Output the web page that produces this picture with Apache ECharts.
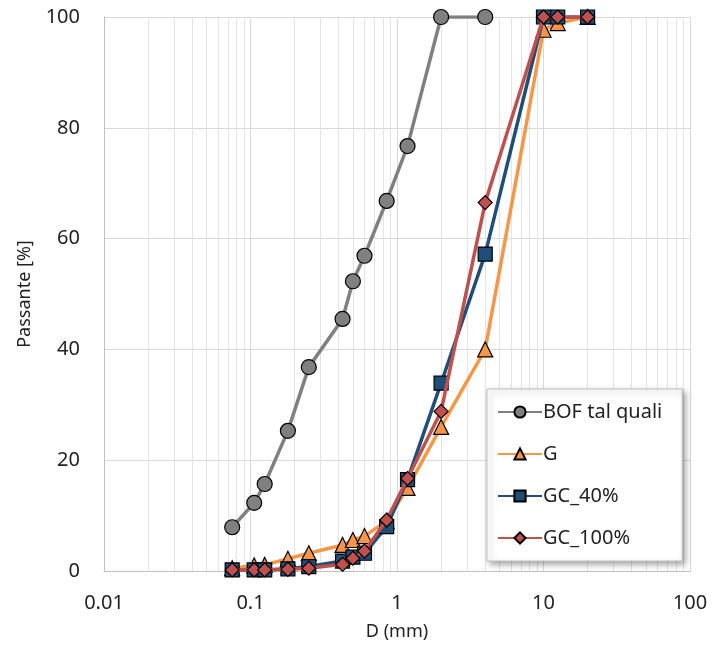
<!DOCTYPE html>
<html>
<head>
<meta charset="utf-8">
<script src="https://cdn.jsdelivr.net/npm/echarts@6/dist/echarts.min.js"></script>
<style>
  html, body { margin: 0; padding: 0; background: #fff; }
  #chart { width: 714px; height: 654px; }
</style>
</head>
<body>
<div id="chart"></div>
<script>
// sieve sizes (mm)
let sieves = [0.075, 0.106, 0.125, 0.18, 0.25, 0.425, 0.5, 0.6, 0.85, 1.18, 2, 4, 10, 12.5, 20];

let bofData = [7.9, 12.3, 15.7, 25.3, 36.8, 45.5, 52.3, 56.9, 66.8, 76.7, 100, 100];
let gData = [0.5, 1.0, 1.1, 2.2, 3.2, 4.7, 5.6, 6.3, 9.0, 15.0, 26.0, 40.0, 97.7, 98.9, 100];
let gc40Data = [0.2, 0.2, 0.2, 0.4, 0.8, 1.8, 2.5, 3.2, 8.0, 16.5, 33.9, 57.2, 100, 100, 100];
let gc100Data = [0.2, 0.2, 0.2, 0.3, 0.5, 1.2, 2.3, 3.6, 9.2, 16.7, 28.8, 66.5, 100, 100, 100];

let seriesNames = ['BOF tal quali', 'G', 'GC_40%', 'GC_100%'];

function pairs(vals) {
  let out = []
  for (let i = 0; i < vals.length; i++) {
    out.push([sieves[i], vals[i]])
  }
  return out
}

// minor log grid lines (2..9 in each decade)
let minorLines = []
for (let d = 0.01; d < 99; d *= 10) {
  for (let k = 2; k <= 9; k++) {
    minorLines.push({ xAxis: +(d * k).toPrecision(3) })
  }
}

let font = 'Noto Sans'

let chart = echarts.init(document.getElementById('chart'));
chart.setOption({
  animation: false,
  backgroundColor: '#fff',
  grid: { left: 104, right: 24, top: 17, bottom: 83 },
  xAxis: {
    type: 'log',
    logBase: 10,
    min: 0.01,
    max: 100,
    name: 'D (mm)',
    nameLocation: 'middle',
    nameGap: 52,
    nameTextStyle: { color: '#222', fontSize: 18, fontFamily: font },
    axisLine: { lineStyle: { color: '#bfbfbf' } },
    axisTick: { show: false },
    axisLabel: {
      color: '#222', fontSize: 20, fontFamily: font, margin: 22,
      formatter: function (v) { return String(+v.toPrecision(3)) }
    },
    splitLine: { show: true, lineStyle: { color: '#d9d9d9' } }
  },
  yAxis: {
    type: 'value',
    min: 0,
    max: 100,
    interval: 20,
    name: 'Passante [%]',
    nameLocation: 'middle',
    nameGap: 70,
    nameRotate: 90,
    nameTextStyle: { color: '#222', fontSize: 18, fontFamily: font },
    axisLine: { show: true, lineStyle: { color: '#bfbfbf' } },
    axisTick: { show: false },
    axisLabel: { color: '#222', fontSize: 20, fontFamily: font, margin: 24 },
    splitLine: { show: true, lineStyle: { color: '#d9d9d9' } }
  },
  legend: {
    orient: 'vertical',
    left: 487,
    top: 389,
    width: 170,
    padding: [13, 20, 13, 10],
    itemGap: 22,
    itemWidth: 44,
    itemHeight: 14,
    backgroundColor: '#fff',
    borderColor: '#bfbfbf',
    borderWidth: 1,
    shadowColor: 'rgba(0,0,0,0.35)',
    shadowBlur: 6,
    shadowOffsetX: 3,
    shadowOffsetY: 3,
    textStyle: { color: '#222', fontSize: 20, fontFamily: font, padding: [0, 0, 0, -4] },
    data: seriesNames
  },
  series: [
    {
      name: seriesNames[0],
      type: 'line',
      data: pairs(bofData),
      symbol: 'circle',
      symbolSize: 15,
      lineStyle: { color: '#808080', width: 3.5 },
      itemStyle: { color: '#808080', borderColor: '#000', borderWidth: 1.2 },
      markLine: {
        silent: true,
        symbol: 'none',
        label: { show: false },
        animation: false,
        lineStyle: { color: '#e3e3e3', type: 'solid', width: 1 },
        data: minorLines,
        z: 0
      },
      z: 3
    },
    {
      name: seriesNames[1],
      type: 'line',
      data: pairs(gData),
      symbol: 'triangle',
      symbolSize: 15,
      lineStyle: { color: '#f79646', width: 3.5 },
      itemStyle: { color: '#f79646', borderColor: '#000', borderWidth: 1.2 },
      z: 4
    },
    {
      name: seriesNames[2],
      type: 'line',
      data: pairs(gc40Data),
      symbol: 'rect',
      symbolSize: 14,
      lineStyle: { color: '#1f4e79', width: 3.5 },
      itemStyle: { color: '#1f4e79', borderColor: '#000', borderWidth: 1.2 },
      z: 5
    },
    {
      name: seriesNames[3],
      type: 'line',
      data: pairs(gc100Data),
      symbol: 'diamond',
      symbolSize: 14,
      lineStyle: { color: '#c0504d', width: 3.5 },
      itemStyle: { color: '#c0504d', borderColor: '#000', borderWidth: 1.2 },
      z: 6
    }
  ]
});
</script>
</body>
</html>
